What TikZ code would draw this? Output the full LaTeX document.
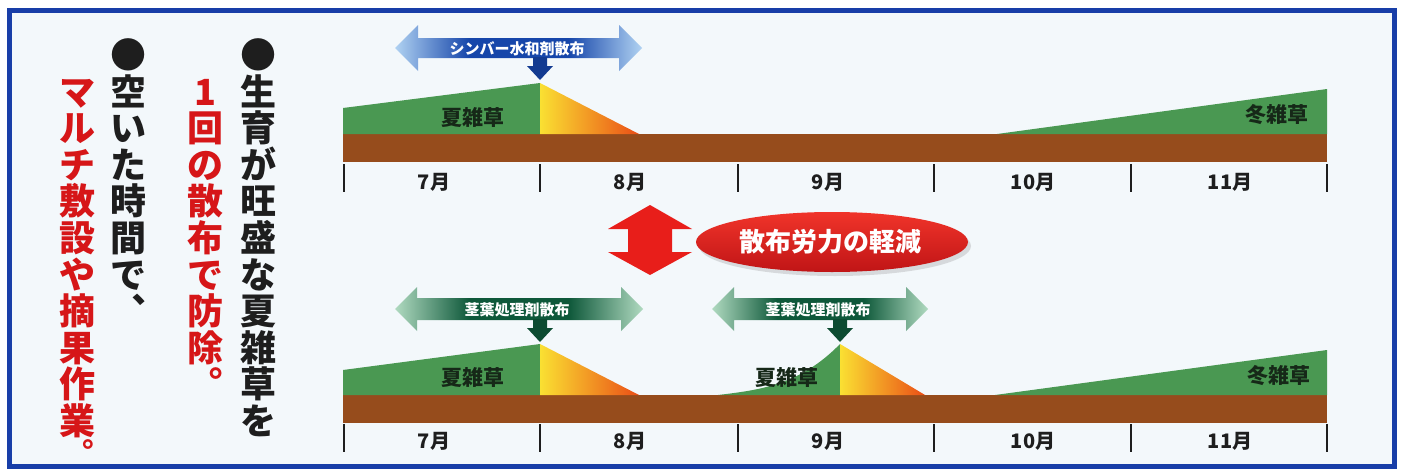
\documentclass[tikz,border=0pt]{standalone}
\usepackage{fontspec}
\newfontfamily\jp{Noto Sans CJK JP}
\usetikzlibrary{shadows}
\definecolor{frameblue}{RGB}{24,62,168}
\definecolor{panel}{RGB}{243,248,251}
\definecolor{soil}{RGB}{150,76,28}
\definecolor{grass}{RGB}{74,152,82}
\definecolor{ylw}{RGB}{250,224,50}
\definecolor{org}{RGB}{234,78,22}
\definecolor{txtdark}{RGB}{30,30,30}
\definecolor{weedtxt}{RGB}{22,40,24}
\definecolor{txtred}{RGB}{214,22,24}
\definecolor{bluedark}{RGB}{22,70,170}
\definecolor{bluelight}{RGB}{176,210,242}
\definecolor{greendark}{RGB}{14,88,58}
\definecolor{greenlight}{RGB}{176,218,192}
\definecolor{arrowred}{RGB}{232,30,26}
\definecolor{ellred}{RGB}{226,24,26}
\definecolor{ellredtop}{RGB}{240,52,42}
\pgfdeclarehorizontalshading{bluebar}{100bp}{color(0bp)=(bluelight); color(25bp)=(bluelight); color(40bp)=(bluedark); color(60bp)=(bluedark); color(75bp)=(bluelight); color(100bp)=(bluelight)}
\pgfdeclarehorizontalshading{greenbar}{100bp}{color(0bp)=(greenlight); color(25bp)=(greenlight); color(40bp)=(greendark); color(60bp)=(greendark); color(75bp)=(greenlight); color(100bp)=(greenlight)}
\tikzset{
  month/.style={font=\jp\bfseries\fontsize{20}{20}\selectfont, text=txtdark, inner sep=0pt},
  weed/.style={font=\jp\bfseries\fontsize{21}{21}\selectfont, text=weedtxt, inner sep=0pt},
  arrlbl/.style={font=\jp\bfseries\fontsize{15}{15}\selectfont, text=white, inner sep=0pt},
  vch/.style={font=\jp\bfseries\fontsize{36}{36}\selectfont, inner sep=0pt, anchor=base},
  tickline/.style={draw=txtdark, line width=1.6pt},
  fade/.style={left color=ylw, right color=org},
}
\begin{document}
\begin{tikzpicture}[x=1pt,y=-1pt]
\useasboundingbox (0,0) rectangle (1402,471);
\fill[white] (0,0) rectangle (1402,471);
\filldraw[fill=panel, draw=frameblue, line width=5pt] (9,10) rectangle (1394,466);

% ---------- top chart ----------
\fill[soil] (343,134) rectangle (1327,162);
\fill[grass] (343,108) -- (540,83) -- (540,134) -- (343,134) -- cycle;
\shade[fade] (540,83) -- (639,134) -- (540,134) -- cycle;
\fill[grass] (997,134) -- (1327,89) -- (1327,134) -- cycle;
\foreach \tx in {344,540,738,934,1131,1327} \draw[tickline] (\tx,164) -- (\tx,192);
\node[month] (t7) at (434,182) {7月};
\node[month] (t8) at (630,182) {8月};
\node[month] (t9) at (828,182) {9月};
\node[month] (t10) at (1033,182) {10月};
\node[month] (t11) at (1230,182) {11月};
\node[weed] (tsummer) at (473,117) {夏雑草};
\node[weed] (twinter) at (1277,115) {冬雑草};
% blue arrow
\shade[shading=bluebar] (395,48) -- (418,25) -- (418,38) -- (619,38) -- (619,25) -- (642,48) -- (619,71) -- (619,58) -- (418,58) -- (418,71) -- cycle;
\fill[bluedark!85!black] (533,57) -- (547,57) -- (547,66) -- (553,66) -- (540,80) -- (527,66) -- (533,66) -- cycle;
\node[arrlbl] (tspray) at (517,49) {シンバー水和剤散布};

% ---------- middle ----------
\fill[arrowred] (650,205) -- (692,229) -- (672,229) -- (672,252) -- (692,252) -- (650,275) -- (608,252) -- (628,252) -- (628,229) -- (608,229) -- cycle;
\shade[top color=ellredtop, bottom color=ellred!85!black, drop shadow={opacity=0.25, shadow xshift=3pt, shadow yshift=-4pt}] (832,242) ellipse [x radius=136, y radius=30];
\node[font=\jp\bfseries\fontsize{26}{26}\selectfont, text=white, inner sep=0pt] (relief) at (830,242) {散布労力の軽減};

% ---------- bottom chart ----------
\fill[soil] (343,395) rectangle (1327,423);
\fill[grass] (343,370) -- (540,344) -- (540,395) -- (343,395) -- cycle;
\shade[fade] (540,344) -- (639,395) -- (540,395) -- cycle;
\fill[grass] (718,395) .. controls (760,390) and (800,385) .. (840,344) -- (840,395) -- cycle;
\shade[fade] (840,344) -- (925,395) -- (840,395) -- cycle;
\fill[grass] (995,395) -- (1327,350) -- (1327,395) -- cycle;
\foreach \tx in {344,540,738,934,1131,1327} \draw[tickline] (\tx,424) -- (\tx,452);
\node[month] (b7) at (434,441) {7月};
\node[month] (b8) at (630,441) {8月};
\node[month] (b9) at (828,441) {9月};
\node[month] (b10) at (1033,441) {10月};
\node[month] (b11) at (1230,441) {11月};
\node[weed] (bsummer1) at (473,377) {夏雑草};
\node[weed] (bsummer2) at (787,377) {夏雑草};
\node[weed] (bwinter) at (1279,376) {冬雑草};
% green arrows
\shade[shading=greenbar] (395,309) -- (417,287) -- (417,298) -- (621,298) -- (621,287) -- (643,309) -- (621,331) -- (621,320) -- (417,320) -- (417,331) -- cycle;
\fill[greendark!85!black] (533,319) -- (547,319) -- (547,328) -- (553,328) -- (540,342) -- (527,328) -- (533,328) -- cycle;
\node[arrlbl] (bspray1) at (517,310) {茎葉処理剤散布};
\shade[shading=greenbar] (712,309) -- (734,287) -- (734,298) -- (906,298) -- (906,287) -- (928,309) -- (906,331) -- (906,320) -- (734,320) -- (734,331) -- cycle;
\fill[greendark!85!black] (833,319) -- (847,319) -- (847,328) -- (853,328) -- (840,342) -- (827,328) -- (833,328) -- cycle;
\node[arrlbl] (bspray2) at (818,310) {茎葉処理剤散布};

% ---------- vertical texts ----------
\foreach \ch [count=\k from 0] in {●,生,育,が,旺,盛,な,夏,雑,草,を}
  \node[vch, text=txtdark] (ca\k) at (258,{55+36.6*\k+13.5}) {\ch};
\foreach \ch [count=\k from 1] in {1,回,の,散,布,で,防,除,︒}
  \node[vch, text=txtred] (cb\k) at (205,{55+36.6*\k+13.5}) {\ch};
\foreach \ch [count=\k from 0] in {●,空,い,た,時,間,で,︑}
  \node[vch, text=txtdark] (cc\k) at (128,{55+36.6*\k+13.5}) {\ch};
\foreach \ch [count=\k from 1] in {マ,ル,チ,敷,設,や,摘,果,作,業}
  \node[vch, text=txtred] (cd\k) at (77,{55+36.6*\k+13.5}) {\ch};
\node[vch, text=txtred, text depth=0pt, font=\jp\bfseries\fontsize{30}{30}\selectfont] (cd11) at (79,464.5) {︒};
\end{tikzpicture}
\end{document}
